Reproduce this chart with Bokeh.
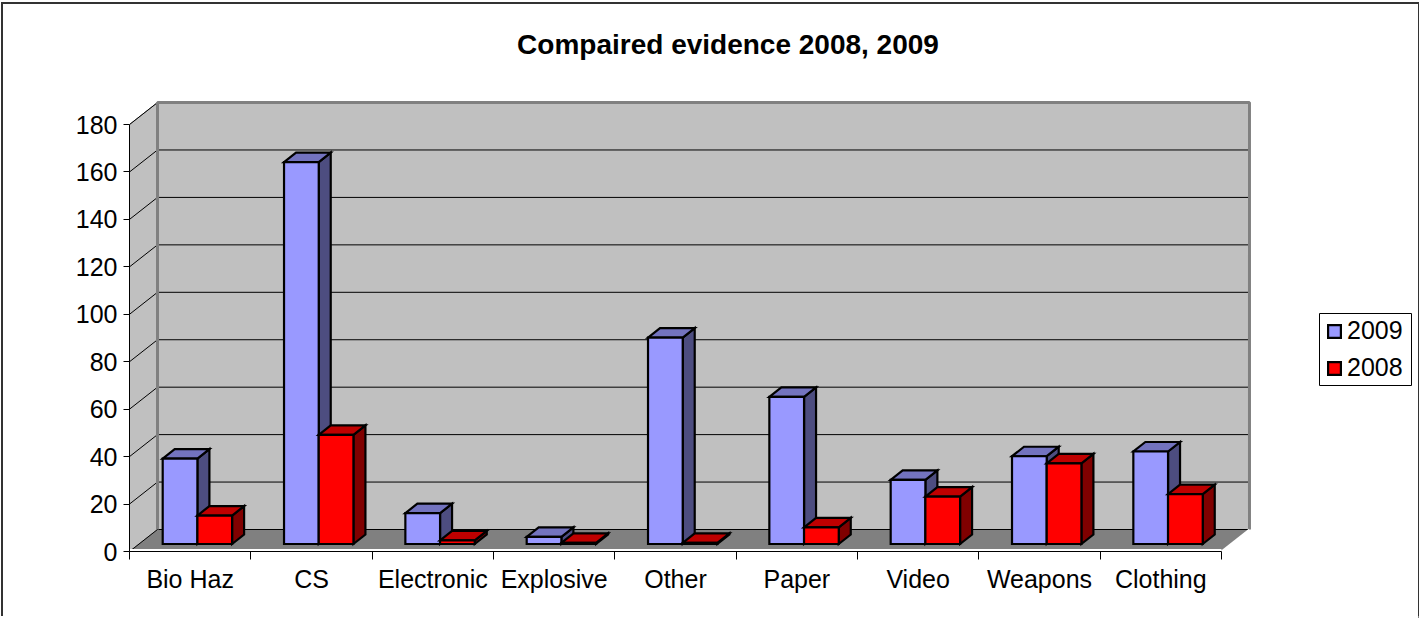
from bokeh.plotting import figure
from bokeh.embed import file_html
from bokeh.resources import INLINE
from bokeh.models import Range1d, FixedTicker, Legend, LegendItem, Label

categories = ["Bio Haz", "CS", "Electronic", "Explosive", "Other", "Paper", "Video", "Weapons", "Clothing"]
values_2009 = [36, 161, 13, 3, 87, 62, 27, 37, 39]
values_2008 = [12, 46, 1.5, 0.5, 0.5, 7, 20, 34, 21]
y_ticks = [0, 20, 40, 60, 80, 100, 120, 140, 160, 180]

FONT = "Liberation Sans"
PX_X = 121.33
PX_Y = 2.372
WALL_DX = 28 / PX_X
WALL_DY = 22 / PX_Y
BAR_DX = 12 / PX_X
BAR_DY = 9.5 / PX_Y
BAR_X0 = 33.2 / PX_X
BAR_W = 34.7 / PX_X
BAR_Y0 = 7.5 / PX_Y
N = len(categories)

p = figure(frame_width=1289, frame_height=547, output_backend="svg", toolbar_location=None,
           x_range=Range1d(0, 1289 / PX_X), y_range=Range1d(0, 547 / PX_Y),
           min_border_left=126, min_border_right=0, min_border_top=0, min_border_bottom=67,
           margin=(4, 0, 0, 3), background_fill_color="white", border_fill_color="white",
           outline_line_color=None)
p.grid.visible = False
p.styles = {"box-shadow": "-2px -2px 0 0 #333333, 1px -2px 0 0 #333333, 1px 0 0 0 #808080"}

# walls and floor
GREY, WALL = "#808080", "#c0c0c0"
p.patch([0, WALL_DX, WALL_DX, 0], [0, WALL_DY, 180 + WALL_DY, 180], fill_color=WALL, line_color=GREY, line_width=1)
p.patch([WALL_DX, N + WALL_DX, N + WALL_DX, WALL_DX], [WALL_DY, WALL_DY, 180 + WALL_DY, 180 + WALL_DY],
        fill_color=WALL, line_color=None)
p.patch([0, N, N + WALL_DX, WALL_DX], [0, 0, WALL_DY, WALL_DY], fill_color=GREY, line_color=None)
# gridlines
p.segment([0] * 9, y_ticks[1:], [WALL_DX] * 9, [t + WALL_DY for t in y_ticks[1:]], line_color="black", line_width=1)
p.segment([WALL_DX] * 9, [t + WALL_DY for t in y_ticks[:-1]], [N + WALL_DX] * 9, [t + WALL_DY for t in y_ticks[:-1]],
          line_color="black", line_width=1)
p.line([WALL_DX, WALL_DX, N + WALL_DX, N + WALL_DX], [WALL_DY, 180 + WALL_DY, 180 + WALL_DY, WALL_DY],
       line_color=GREY, line_width=3)
p.line([0, WALL_DX], [0, WALL_DY], line_color="black", line_width=1)
p.line([N, N + WALL_DX], [0, WALL_DY], line_color="white", line_width=2)
p.line([0, N], [0.6, 0.6], line_color="white", line_width=2)

# bars: 2008 is drawn after 2009 so that it overlaps 2009's side face
r09 = r08 = None
kw = dict(line_color="black", line_width=2.2, line_join="miter")
for i in range(N):
    x0 = i + BAR_X0
    for slot, vals, cols in ((0, values_2009, ("#9999ff", "#7373bf", "#4d4d80")),
                             (1, values_2008, ("#ff0000", "#bf0000", "#800000"))):
        v = vals[i]
        xa = x0 + slot * BAR_W
        xb = xa + BAR_W
        y0, y1 = BAR_Y0, BAR_Y0 + v
        p.patch([xb, xb + BAR_DX, xb + BAR_DX, xb], [y0, y0 + BAR_DY, y1 + BAR_DY, y1], fill_color=cols[2], **kw)
        p.patch([xa, xb, xb + BAR_DX, xa + BAR_DX], [y1, y1, y1 + BAR_DY, y1 + BAR_DY], fill_color=cols[1], **kw)
        q = p.quad(left=[xa], right=[xb], bottom=[y0], top=[y1], fill_color=cols[0], **kw)
        if slot == 0:
            r09 = q
        else:
            r08 = q

# axes
ya = p.yaxis[0]
ya.ticker = FixedTicker(ticks=y_ticks)
ya.bounds = (0, 180)
ya.axis_line_color = "black"
ya.major_tick_in = 0
ya.major_tick_out = 6
ya.minor_tick_out = 0
ya.minor_tick_in = 0
ya.major_tick_line_color = "black"
ya.major_label_text_font = FONT
ya.major_label_text_font_size = "25px"
ya.major_label_text_color = "black"
ya.major_label_standoff = 6

xa = p.xaxis[0]
xa.ticker = FixedTicker(ticks=[i + 0.5 for i in range(N)], minor_ticks=list(range(N + 1)))
xa.major_label_overrides = {i + 0.5: c for i, c in enumerate(categories)}
xa.bounds = (0, N)
xa.axis_line_color = "black"
xa.major_tick_in = 0
xa.major_tick_out = 0
xa.minor_tick_in = 0
xa.minor_tick_out = 8
xa.minor_tick_line_color = "black"
xa.major_label_text_font = FONT
xa.major_label_text_font_size = "25px"
xa.major_label_text_color = "black"
xa.major_label_standoff = 5

# title
p.add_layout(Label(x=598.5 / PX_X, y=507 / PX_Y, text="Compaired evidence 2008, 2009", text_align="center",
                   text_baseline="middle", text_font=FONT, text_font_size="28px", text_font_style="bold",
                   text_color="black"))

# legend box and legend
LEG_L, LEG_R, LEG_T, LEG_B = 1190, 1282, 238, 166
p.quad(left=[LEG_L / PX_X], right=[LEG_R / PX_X], bottom=[LEG_B / PX_Y], top=[LEG_T / PX_Y],
       fill_color="white", line_color="black", line_width=1)
lg = Legend(items=[LegendItem(label="2009", renderers=[r09]), LegendItem(label="2008", renderers=[r08])],
            location=(1197, 169), orientation="vertical", border_line_color=None,
            background_fill_alpha=0,
            label_text_font=FONT, label_text_font_size="25px", label_text_color="black",
            glyph_width=16, glyph_height=16, label_standoff=5, padding=2, spacing=8, margin=0)
p.add_layout(lg, "center")

open("out.html", "w").write(file_html(p, INLINE))
